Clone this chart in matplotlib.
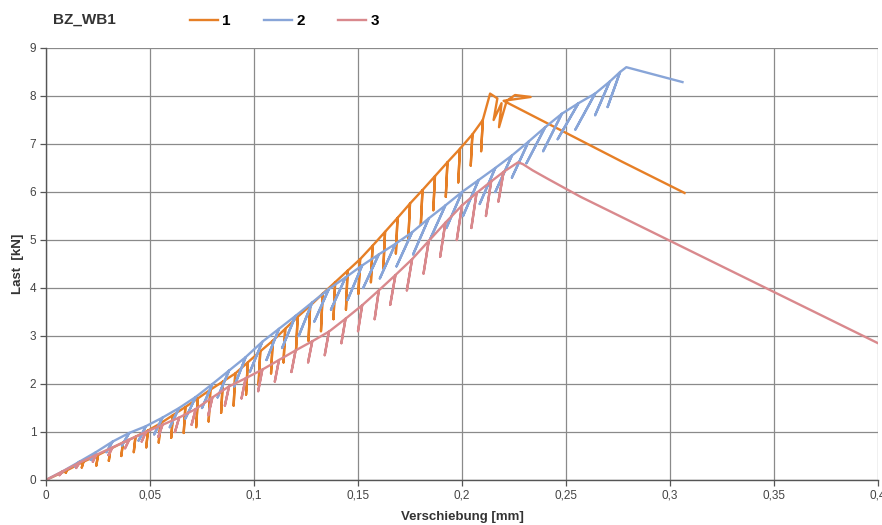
import matplotlib
matplotlib.use("Agg")
import matplotlib.pyplot as plt
from matplotlib.ticker import MultipleLocator, FuncFormatter

plt.rcParams['font.family'] = ['Liberation Sans', 'DejaVu Sans']

# --- data (Verschiebung [mm], Last [kN]) ---
series_names = ["1", "2", "3"]
series_colors = ["#E67F26", "#88A5D8", "#D9898D"]

# series 1: envelope peaks, unloading dips, post-peak branch
s1_peak_x = [0.010, 0.018, 0.025, 0.031, 0.037, 0.043, 0.049, 0.055, 0.061, 0.067, 0.073, 0.079,
             0.085, 0.091, 0.097, 0.103, 0.109, 0.115, 0.121, 0.127, 0.133, 0.139, 0.145, 0.151,
             0.157, 0.163, 0.169, 0.175, 0.181, 0.187, 0.193, 0.199, 0.205, 0.210]
s1_peak_y = [0.20, 0.38, 0.52, 0.65, 0.78, 0.90, 1.03, 1.18, 1.35, 1.52, 1.70, 1.88,
             2.05, 2.22, 2.45, 2.68, 2.90, 3.15, 3.40, 3.63, 3.88, 4.12, 4.36, 4.60,
             4.88, 5.17, 5.46, 5.76, 6.04, 6.33, 6.62, 6.90, 7.20, 7.50]
s1_dip_x = [0.0095, 0.0172, 0.0242, 0.0302, 0.0362, 0.0422, 0.0482, 0.0542, 0.0602, 0.0662, 0.0722, 0.0782,
            0.0842, 0.0902, 0.0962, 0.1022, 0.1082, 0.1142, 0.1202, 0.1262, 0.1322, 0.1382, 0.1442, 0.1502,
            0.1562, 0.1622, 0.1682, 0.1742, 0.1802, 0.1862, 0.1922, 0.1982, 0.2042, 0.2092]
s1_dip_y = [0.15, 0.26, 0.30, 0.40, 0.50, 0.58, 0.68, 0.78, 0.88, 0.98, 1.10, 1.22,
            1.40, 1.55, 1.78, 1.98, 2.22, 2.45, 2.70, 2.90, 3.10, 3.35, 3.55, 3.88,
            4.12, 4.42, 4.72, 5.02, 5.32, 5.62, 5.90, 6.20, 6.55, 6.85]
s1_tail_x = [0.2135, 0.2170, 0.2152, 0.2190, 0.2178, 0.2215, 0.2255, 0.2330, 0.2200, 0.2770, 0.3070]
s1_tail_y = [8.05, 7.95, 7.50, 7.85, 7.35, 7.90, 8.02, 7.98, 7.90, 6.63, 5.98]

# series 2
s2_peak_x = [0.008, 0.016, 0.024, 0.032, 0.040, 0.048, 0.056, 0.064, 0.072, 0.080, 0.088, 0.096,
             0.104, 0.112, 0.120, 0.128, 0.136, 0.144, 0.152, 0.160, 0.168, 0.176, 0.184, 0.192,
             0.200, 0.208, 0.216, 0.224, 0.232, 0.240, 0.248, 0.256, 0.264, 0.271, 0.276]
s2_peak_y = [0.18, 0.38, 0.58, 0.80, 0.98, 1.12, 1.30, 1.50, 1.73, 2.00, 2.28, 2.56,
             2.88, 3.15, 3.42, 3.70, 3.98, 4.22, 4.47, 4.70, 4.92, 5.16, 5.45, 5.72,
             6.00, 6.25, 6.50, 6.76, 7.05, 7.35, 7.63, 7.85, 8.05, 8.30, 8.50]
s2_dip_x = [0.0065, 0.0140, 0.0215, 0.0290, 0.0365, 0.0445, 0.0520, 0.0595, 0.0670, 0.0750, 0.0825, 0.0905,
            0.0980, 0.1060, 0.1135, 0.1215, 0.1290, 0.1370, 0.1450, 0.1525, 0.1605, 0.1685, 0.1765, 0.1845,
            0.1925, 0.2005, 0.2085, 0.2160, 0.2240, 0.2310, 0.2390, 0.2460, 0.2545, 0.2640, 0.2700]
s2_dip_y = [0.12, 0.28, 0.42, 0.58, 0.72, 0.82, 0.95, 1.10, 1.28, 1.50, 1.72, 1.95,
            2.25, 2.50, 2.75, 3.00, 3.30, 3.55, 3.75, 4.00, 4.20, 4.45, 4.70, 5.00,
            5.25, 5.50, 5.75, 6.00, 6.30, 6.60, 6.85, 7.10, 7.30, 7.60, 7.77]
s2_tail_x = [0.2790, 0.3060]
s2_tail_y = [8.60, 8.29]

# series 3
s3_peak_x = [0.008, 0.016, 0.024, 0.032, 0.040, 0.048, 0.056, 0.064, 0.072, 0.080, 0.088, 0.096,
             0.104, 0.112, 0.120, 0.128, 0.136, 0.144, 0.152, 0.160, 0.168, 0.176, 0.184, 0.192,
             0.200, 0.207, 0.214, 0.220]
s3_peak_y = [0.18, 0.36, 0.52, 0.68, 0.84, 1.00, 1.15, 1.30, 1.48, 1.72, 1.95, 2.12,
             2.30, 2.50, 2.70, 2.89, 3.09, 3.36, 3.64, 3.95, 4.27, 4.60, 4.98, 5.36,
             5.72, 5.98, 6.22, 6.42]
s3_dip_x = [0.0065, 0.0145, 0.0225, 0.0300, 0.0380, 0.0460, 0.0540, 0.0620, 0.0700, 0.0780, 0.0860, 0.0940,
            0.1020, 0.1100, 0.1180, 0.1260, 0.1340, 0.1420, 0.1500, 0.1580, 0.1655, 0.1735, 0.1815, 0.1895,
            0.1975, 0.2045, 0.2115, 0.2175]
s3_dip_y = [0.10, 0.25, 0.38, 0.52, 0.66, 0.80, 0.90, 1.00, 1.15, 1.35, 1.55, 1.70,
            1.85, 2.05, 2.25, 2.45, 2.60, 2.85, 3.10, 3.35, 3.65, 3.95, 4.30, 4.65,
            5.00, 5.25, 5.50, 5.80]
s3_tail_x = [0.2270, 0.2293, 0.2340, 0.2410, 0.2570, 0.4000]
s3_tail_y = [6.62, 6.58, 6.45, 6.28, 5.90, 2.85]

x_label = "Verschiebung [mm]"
y_label = "Last  [kN]"
chart_title = "BZ_WB1"


def build_curve(peak_x, peak_y, dip_x, dip_y, tail_x, tail_y):
    # load -> peak, unload to dip, reload back to peak, continue
    xs, ys = [0.0], [0.0]
    for px, py, dx, dy in zip(peak_x, peak_y, dip_x, dip_y):
        xs += [px, dx, px]
        ys += [py, dy, py]
    return xs + tail_x, ys + tail_y


curves = [
    build_curve(s1_peak_x, s1_peak_y, s1_dip_x, s1_dip_y, s1_tail_x, s1_tail_y),
    build_curve(s2_peak_x, s2_peak_y, s2_dip_x, s2_dip_y, s2_tail_x, s2_tail_y),
    build_curve(s3_peak_x, s3_peak_y, s3_dip_x, s3_dip_y, s3_tail_x, s3_tail_y),
]

fig = plt.figure(figsize=(8.82, 5.25), dpi=100)
ax = fig.add_axes([46 / 882, 1 - 480 / 525, 832 / 882, 432 / 525])

handles = []
for (xs, ys), name, col in zip(curves, series_names, series_colors):
    h, = ax.plot(xs, ys, color=col, lw=1.7, solid_joinstyle='round', label=name)
    handles.append(h)

ax.set_xlim(0, 0.4)
ax.set_ylim(0, 9)
ax.xaxis.set_major_locator(MultipleLocator(0.05))
ax.yaxis.set_major_locator(MultipleLocator(1))
ax.xaxis.set_major_formatter(FuncFormatter(lambda v, p: f"{v:g}".replace('.', ',')))
ax.grid(True, color='#8a8a8a', lw=0.9)
ax.set_axisbelow(True)
for s in ['top', 'right']:
    ax.spines[s].set_visible(False)
for s in ['left', 'bottom']:
    ax.spines[s].set_color('#555555')
    ax.spines[s].set_linewidth(1.0)
ax.tick_params(direction='out', length=4, width=0.9, color='#555555',
               labelsize=8.5, labelcolor='#444444', pad=3)

ax.set_xlabel(x_label, fontsize=9.5, fontweight='bold', color='#333333', labelpad=7)
ax.set_ylabel(y_label, fontsize=9.5, fontweight='bold', color='#333333', labelpad=4)

fig.text(53 / 882, 1 - 20 / 525, chart_title, fontsize=11, fontweight='bold',
         color='#333333', ha='left', va='center')
fig.legend(handles, series_names, loc='center left', bbox_to_anchor=(190 / 882, 1 - 21 / 525),
           ncol=3, frameon=False, handlelength=1.8, handletextpad=0.3, columnspacing=2.2,
           borderpad=0, borderaxespad=0, prop={'weight': 'bold', 'size': 11})

fig.savefig("out.png", dpi=100)
